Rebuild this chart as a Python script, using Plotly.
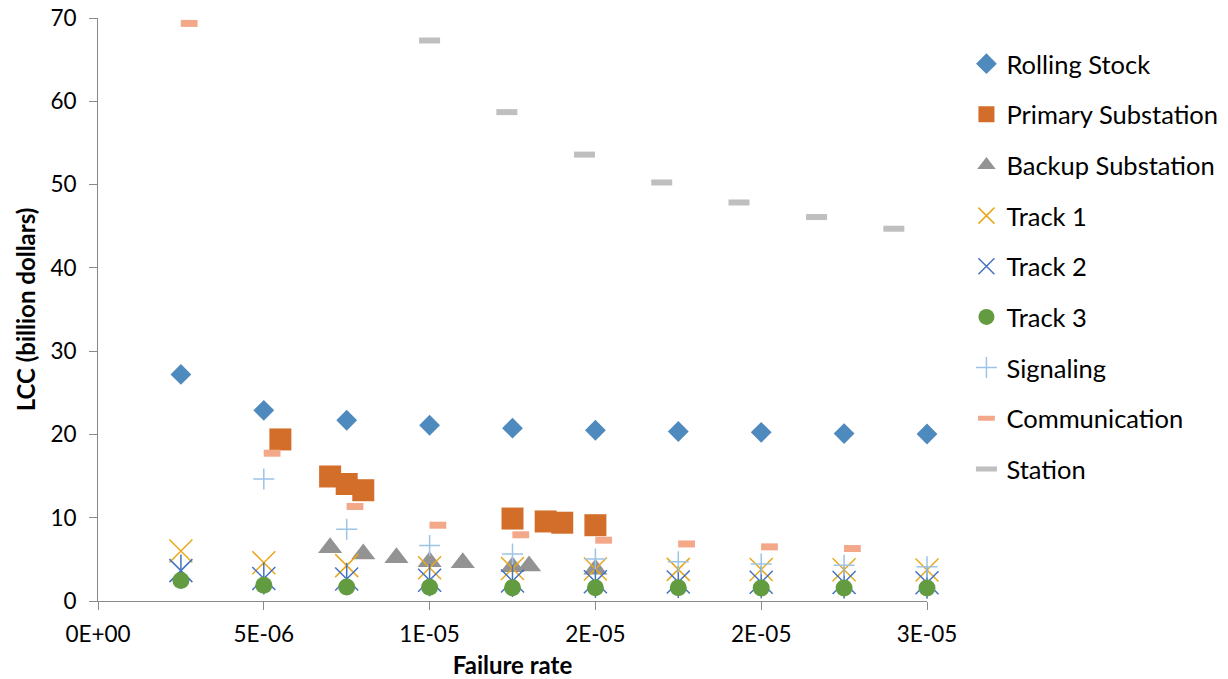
import plotly.graph_objects as go

# ---------------- data ----------------
x_main = [2.5e-6, 5e-6, 7.5e-6, 1e-5, 1.25e-5, 1.5e-5, 1.75e-5, 2e-5, 2.25e-5, 2.5e-5]
rolling_stock = [27.2, 22.9, 21.7, 21.1, 20.75, 20.5, 20.35, 20.25, 20.1, 20.05]

x_primary = [5.5e-6, 7.0e-6, 7.5e-6, 8.0e-6, 1.25e-5, 1.35e-5, 1.4e-5, 1.5e-5]
primary_substation = [19.4, 14.95, 14.05, 13.3, 9.9, 9.55, 9.4, 9.1]

x_backup = [7e-6, 8e-6, 9e-6, 1e-5, 1.1e-5, 1.25e-5, 1.3e-5, 1.5e-5]
backup_substation = [6.4, 5.65, 5.2, 4.7, 4.6, 4.1, 4.2, 3.8]

track1 = [6.0, 4.6, 4.25, 4.0, 3.9, 3.85, 3.8, 3.78, 3.75, 3.72]
track2 = [3.65, 2.7, 2.65, 2.5, 2.4, 2.3, 2.28, 2.25, 2.22, 2.2]
track3 = [2.45, 1.88, 1.68, 1.64, 1.6, 1.6, 1.58, 1.57, 1.56, 1.55]

x_signaling = [5e-6, 7.5e-6, 1e-5, 1.25e-5, 1.5e-5, 1.75e-5, 2e-5, 2.25e-5, 2.5e-5]
signaling = [14.65, 8.6, 6.65, 5.65, 5.05, 4.7, 4.45, 4.3, 4.1]

x_communication = [2.75e-6, 5.25e-6, 7.75e-6, 1.025e-5, 1.275e-5, 1.525e-5,
                   1.775e-5, 2.025e-5, 2.275e-5, 2.525e-5]
communication = [69.35, 17.75, 11.35, 9.1, 7.95, 7.3, 6.85, 6.5, 6.3, 6.1]

x_station = [1.0e-5, 1.233e-5, 1.467e-5, 1.7e-5, 1.933e-5, 2.167e-5, 2.4e-5]
station = [67.3, 58.7, 53.6, 50.25, 47.85, 46.1, 44.7]

x_tickvals = [0, 5e-6, 1e-5, 1.5e-5, 2e-5, 2.5e-5]
x_ticktext = ["0E+00", "5E-06", "1E-05", "2E-05", "2E-05", "3E-05"]
y_tickvals = [0, 10, 20, 30, 40, 50, 60, 70]

FONT = "Lato"

fig = go.Figure()


def add(name, x, y, marker, showlegend=True, group=None):
    fig.add_trace(go.Scatter(
        x=x, y=y, mode="markers", name=name, marker=marker,
        cliponaxis=False, showlegend=showlegend,
        legendgroup=group or name,
    ))


add("Rolling Stock", x_main, rolling_stock,
    dict(symbol="diamond", size=16, color="#4F8ABE"))
add("Primary Substation", x_primary, primary_substation,
    dict(symbol="square", size=22, color="#D26E2A"))
add("Backup Substation", x_backup, backup_substation,
    dict(symbol="triangle-up", size=21, color="#939393"))
add("Track 1", x_main, track1,
    dict(symbol="x-thin-open", size=23, color="#E9A81A", line=dict(width=1.5, color="#E9A81A")))
add("Track 2", x_main, track2,
    dict(symbol="x-thin-open", size=23, color="#4472C4", line=dict(width=1.5, color="#4472C4")))
add("Track 2 ", x_main, track2,
    dict(symbol="line-ns-open", size=23, color="#4472C4", line=dict(width=1.5, color="#4472C4")),
    showlegend=False, group="Track 2")
add("Track 3", x_main, track3,
    dict(symbol="circle", size=17, color="#629B40"))
add("Signaling", x_signaling, signaling,
    dict(symbol="cross-thin-open", size=15, color="#9DC3E6", line=dict(width=1.5, color="#9DC3E6")))
add("Communication", x_communication, communication,
    dict(symbol="line-ew-open", size=12, color="#F2A889", line=dict(width=7, color="#F2A889")))
add("Station", x_station, station,
    dict(symbol="line-ew-open", size=15, color="#BFBFBF", line=dict(width=6, color="#BFBFBF")))

axis_common = dict(
    showgrid=False, zeroline=False, showline=True, linecolor="#898989", linewidth=1,
    ticks="outside", tickcolor="#898989", ticklen=8, tickwidth=1,
    tickfont=dict(family=FONT, size=22.5, color="#000000"),
    automargin=False, ticklabeloverflow="allow",
)

fig.update_layout(
    width=1228, height=679,
    margin=dict(l=98, r=301, t=17.5, b=78, pad=0, autoexpand=False),
    plot_bgcolor="white", paper_bgcolor="white",
    xaxis=dict(range=[0, 2.5e-5], tickvals=x_tickvals, ticktext=x_ticktext,
               ticklabelstandoff=5,
               title=dict(text="<b>Failure rate</b>", font=dict(family=FONT, size=24, color="#000000"),
                          standoff=11),
               **axis_common),
    yaxis=dict(range=[0, 70], tickvals=y_tickvals,
               ticklabelstandoff=8,
               title=dict(text="<b>LCC (billion dollars)</b>", font=dict(family=FONT, size=24, color="#000000"),
                          standoff=7),
               **axis_common),
    legend=dict(
        x=0.7870, xref="container", xanchor="left",
        y=0.9402, yref="container", yanchor="top",
        font=dict(family=FONT, size=25.5, color="#000000"),
        traceorder="grouped", tracegroupgap=14.5,
        bgcolor="rgba(0,0,0,0)", itemwidth=30, maxheight=640,
    ),
)

# remove the page's default 8px body margin so the figure fills the window exactly
fig.write_html("out.html", config={"displayModeBar": False},
               post_script="document.body.style.margin='0px';")
